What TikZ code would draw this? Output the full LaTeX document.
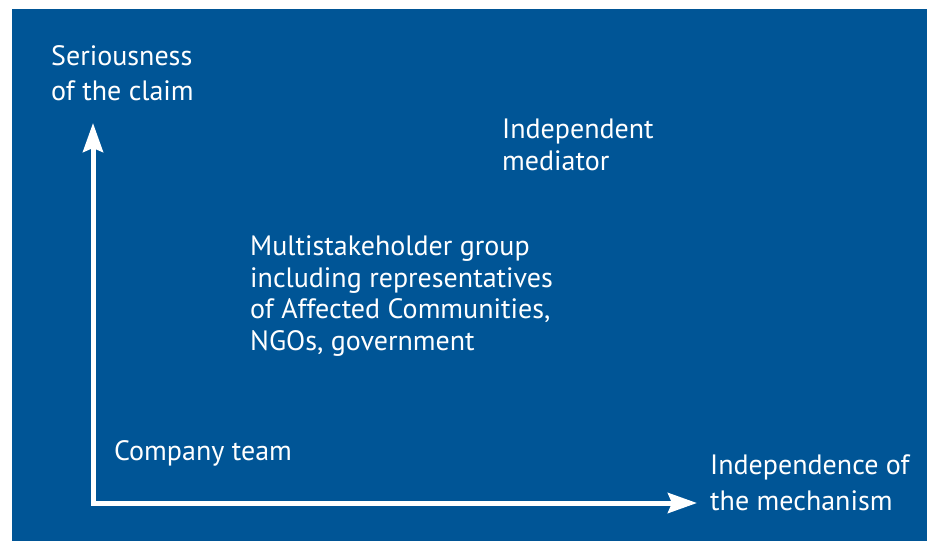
\documentclass[tikz,border=0pt]{standalone}
\usepackage{fontspec}
\setmainfont{PT Sans}
\usetikzlibrary{arrows.meta}
\definecolor{panelblue}{RGB}{0,85,150}
\tikzset{
  lbl/.style={anchor=base west, inner sep=0pt, text=white, font=\fontsize{28}{32}\selectfont},
  axis/.style={draw=white, line width=5pt, line join=miter, -{Stealth[length=29pt,width=20pt,inset=4pt]}}
}
\begin{document}
\begin{tikzpicture}[x=1pt,y=-1pt]
\useasboundingbox (0,0) rectangle (927,541);
\fill[white] (0,0) rectangle (927,541);
\fill[panelblue] (12,9) rectangle (927,541);
\coordinate (O) at (93,503);
\coordinate (Ytip) at (93,123);
\coordinate (Xtip) at (697,503);
\draw[axis] (O) -- (Ytip);
\draw[axis] (O) -- (Xtip);
\draw[draw=white, line width=5pt] (93,485) -- (O) -- (110,503);
\node[lbl] (s1) at (51,65) {Seriousness};
\node[lbl] (s2) at (51,100) {of the claim};
\node[lbl] (m1) at (502,138) {Independent};
\node[lbl] (m2) at (502,170) {mediator};
\node[lbl] (g1) at (250,255) {Multistakeholder group};
\node[lbl] (g2) at (250,287) {including representatives};
\node[lbl] (g3) at (250,318) {of Affected Communities,};
\node[lbl] (g4) at (250,350) {NGOs, government};
\node[lbl] (c1) at (114,460) {Company team};
\node[lbl] (i1) at (710,474) {Independence of};
\node[lbl] (i2) at (710,510) {the mechanism};
\end{tikzpicture}
\end{document}
